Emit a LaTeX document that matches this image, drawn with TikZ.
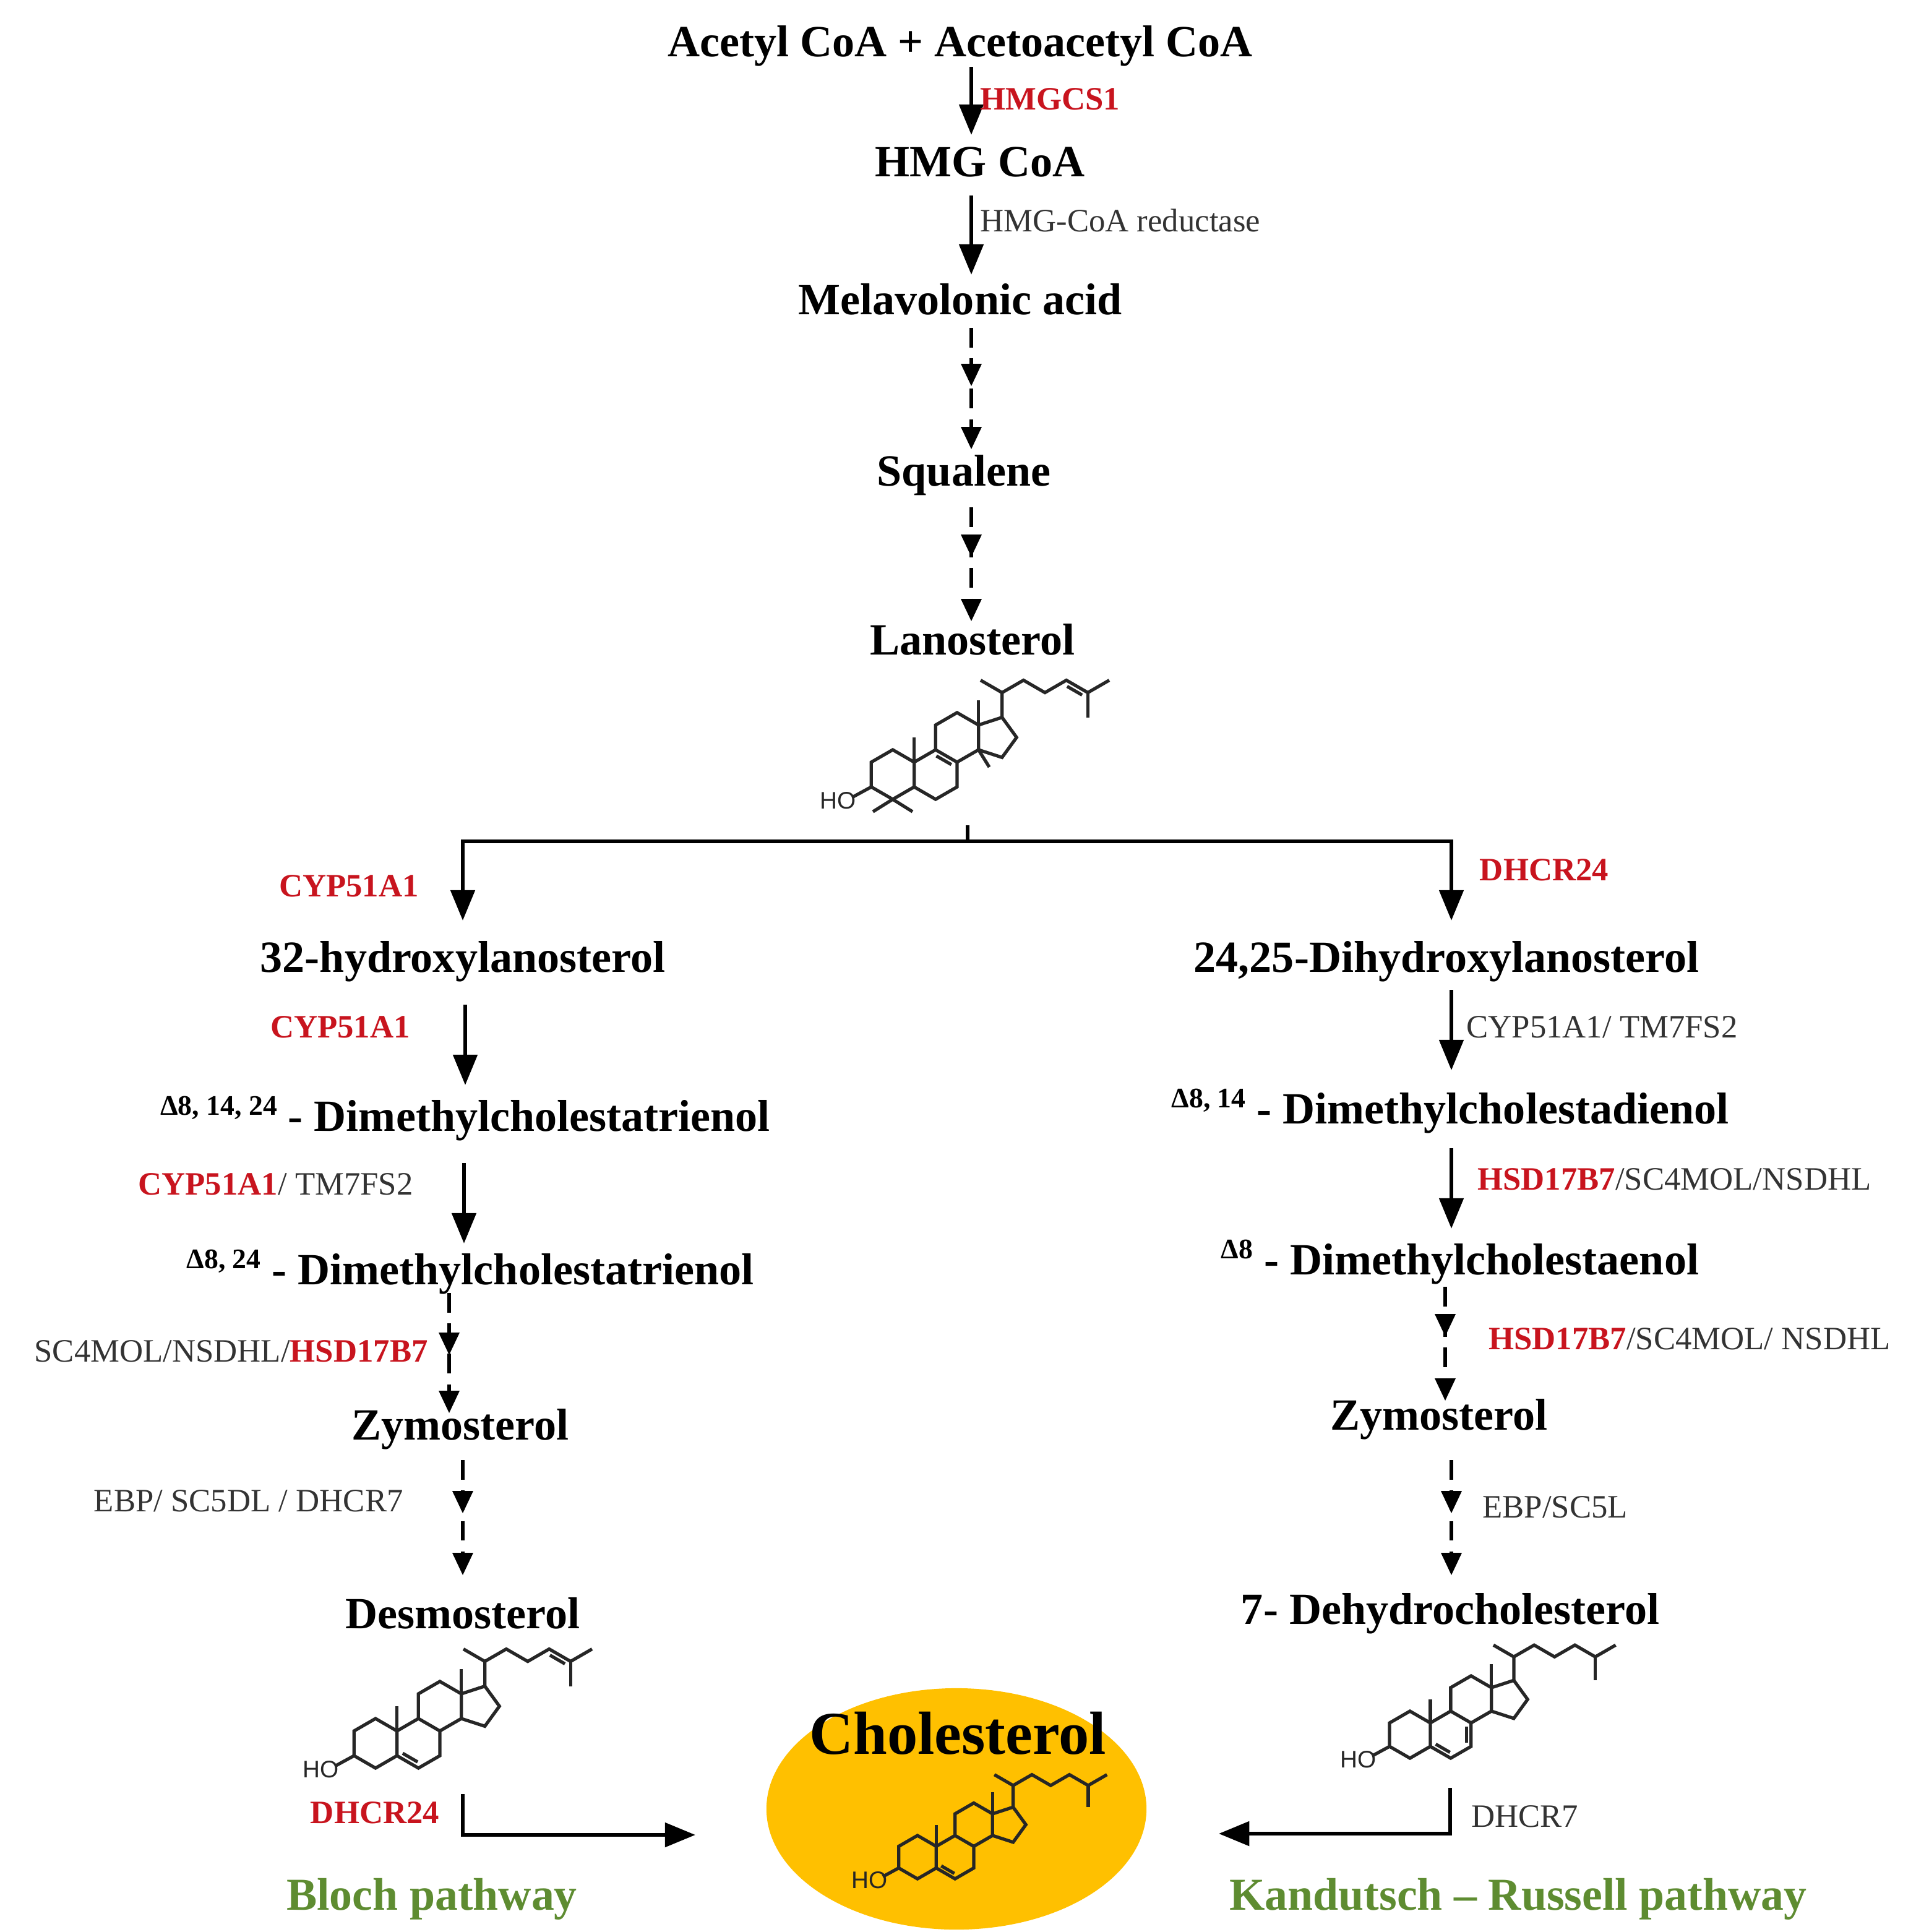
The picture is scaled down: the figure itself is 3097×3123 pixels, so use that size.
\documentclass[tikz,border=0pt]{standalone}
\usepackage{fontspec}
\setmainfont{Liberation Serif}
\setsansfont{Liberation Sans}
\usetikzlibrary{arrows.meta,shapes.geometric}
\definecolor{enzred}{RGB}{200,20,30}
\definecolor{pathgreen}{RGB}{94,140,49}
\definecolor{cholfill}{RGB}{255,192,0}
\newcommand\Ster[5]{% x, y, extras, HO size, scale
\begin{scope}[shift={(#1,#2)},x=#5,y=#5,line width=1.5pt,black!85]
\draw (-0.866,-0.5)--(-0.866,0.5)--(0,1)--(0.866,0.5)--(0.866,-0.5)--(0,-1)--cycle;
\draw (0.866,0.5)--(1.732,1)--(2.598,0.5)--(2.598,-0.5)--(1.732,-1)--(0.866,-0.5);
\draw (1.732,1)--(1.732,2)--(2.598,2.5)--(3.464,2)--(3.464,1)--(2.598,0.5);
\draw (3.464,2)--(4.415,2.309)--(5.003,1.5)--(4.415,0.691)--(3.464,1);
\draw (0.866,0.5)--(0.866,1.5) (3.464,2)--(3.464,3);
\draw (4.415,2.309)--(4.415,3.309)--(3.549,3.809);
\draw (4.415,3.309)--(5.281,3.809)--(6.147,3.309)--(7.013,3.809)--(7.879,3.309)--(8.745,3.809);
\draw (7.879,3.309)--(7.879,2.309);
\draw (-0.866,-0.5)--(-1.6,-0.9);
\node[font=\sffamily\fontsize{#4}{#4}\selectfont,black!85] at (-2.2,-1.05) {HO};
#3
\end{scope}}
\begin{document}
\begin{tikzpicture}[x=0.01cm,y=0.01cm,
  main/.style={font=\bfseries\fontsize{20.5}{24}\selectfont},
  enz/.style={font=\fontsize{15}{18}\selectfont,text=black!80},
  ered/.style={font=\bfseries\fontsize{15}{18}\selectfont,text=enzred},
  path/.style={font=\bfseries\fontsize{21}{25}\selectfont,text=pathgreen},
  arr/.style={line width=1.8pt,-{Triangle[length=14pt,width=11pt]}},
  darr/.style={line width=1.8pt,dash pattern=on 9pt off 5pt}]
\useasboundingbox (0,0) rectangle (3097,-3123);
\fill[white] (0,0) rectangle (3097,-3123);
\newcommand\dtip[2]{\fill (#1,#2) -- ++(-17,36) -- ++(34,0) -- cycle;}
% top chain
\node[main] (acc) at (1552,-74) {Acetyl CoA + Acetoacetyl CoA};
\node[main] (hmg) at (1584,-262) {HMG CoA};
\node[main] (mev) at (1552,-484) {Melavolonic acid};
\node[main] (sq) at (1558,-768) {Squalene};
\node[main] (lan) at (1572,-1034) {Lanosterol};
\coordinate (a1s) at (1570,-108); \coordinate (a1e) at (1570,-218);
\draw[arr] (a1s) -- (a1e);
\node[ered,anchor=west] (hmgcs) at (1572,-160) {HMGCS1};
\coordinate (a2s) at (1570,-316); \coordinate (a2e) at (1570,-444);
\draw[arr] (a2s) -- (a2e);
\node[enz,anchor=west] (red) at (1572,-356) {HMG-CoA reductase};
% dashed
\draw[darr] (1570,-530) -- (1570,-700); \dtip{1570}{-624} \dtip{1570}{-726}
\draw[darr] (1570,-820) -- (1570,-980); \dtip{1570}{-900} \dtip{1570}{-1004}
% lanosterol
\Ster{1443}{-1252}{%
 \draw (1.762,0.752)--(2.368,0.402);
 \draw (7.043,3.561)--(7.649,3.211);
 \draw (0,-1)--(-0.8,-1.5) (0,-1)--(0.8,-1.5);
 \draw (3.464,1)--(3.9,0.3);}{11}{0.4cm}
% branch
\coordinate (br) at (1564,-1334);
\draw[line width=1.8pt] (br) -- (1564,-1360);
\draw[arr] (1564,-1360) -| (748,-1488);
\draw[arr] (1564,-1360) -| (2346,-1488);
\node[ered] (c1) at (564,-1432) {CYP51A1};
\node[ered] (d24) at (2496,-1406) {DHCR24};
% left column
\node[main] (l1) at (748,-1554) {32-hydroxylanosterol};
\node[ered] (c2) at (550,-1660) {CYP51A1};
\draw[arr] (752,-1624) -- (752,-1754);
\node[main] (l2) at (752,-1808) {\raisebox{0.35em}{\fontsize{13}{15}\selectfont Δ8, 14, 24} - Dimethylcholestatrienol};
\draw[arr] (750,-1880) -- (750,-2010);
\node[enz,anchor=east] (c3) at (680,-1914) {\textcolor{enzred}{\bfseries CYP51A1}/ TM7FS2};
\node[main] (l3) at (760,-2056) {\raisebox{0.35em}{\fontsize{13}{15}\selectfont Δ8, 24} - Dimethylcholestatrienol};
\draw[darr] (726,-2090) -- (726,-2260); \dtip{726}{-2190} \dtip{726}{-2284}
\node[enz,anchor=east] (c4) at (704,-2184) {SC4MOL/NSDHL/\textcolor{enzred}{\bfseries HSD17B7}};
\node[main] (l4) at (744,-2310) {Zymosterol};
\draw[darr] (748,-2360) -- (748,-2520); \dtip{748}{-2446} \dtip{748}{-2546}
\node[enz,anchor=east] (c5) at (664,-2426) {EBP/ SC5DL / DHCR7};
\node[main] (l5) at (748,-2608) {Desmosterol};
\Ster{607}{-2818}{%
 \draw (1.096,-0.402)--(1.702,-0.752);
 \draw (7.043,3.561)--(7.649,3.211);}{11}{0.4cm}
% right column
\node[main] (r1) at (2338,-1554) {24,25-Dihydroxylanosterol};
\draw[arr] (2346,-1600) -- (2346,-1730);
\node[enz,anchor=west] (e1) at (2358,-1660) {CYP51A1/ TM7FS2};
\node[main] (r2) at (2344,-1796) {\raisebox{0.35em}{\fontsize{13}{15}\selectfont Δ8, 14} - Dimethylcholestadienol};
\draw[arr] (2346,-1856) -- (2346,-1986);
\node[enz,anchor=west] (e2) at (2376,-1906) {\textcolor{enzred}{\bfseries HSD17B7}/SC4MOL/NSDHL};
\node[main] (r3) at (2360,-2040) {\raisebox{0.35em}{\fontsize{13}{15}\selectfont Δ8} - Dimethylcholestaenol};
\draw[darr] (2336,-2080) -- (2336,-2240); \dtip{2336}{-2160} \dtip{2336}{-2264}
\node[enz,anchor=west] (e3) at (2394,-2164) {\textcolor{enzred}{\bfseries HSD17B7}/SC4MOL/ NSDHL};
\node[main] (r4) at (2326,-2294) {Zymosterol};
\draw[darr] (2346,-2360) -- (2346,-2520); \dtip{2346}{-2446} \dtip{2346}{-2546}
\node[enz,anchor=west] (e4) at (2384,-2436) {EBP/SC5L};
\node[main] (r5) at (2344,-2608) {7- Dehydrocholesterol};
\Ster{2279}{-2804}{%
 \draw (1.096,-0.402)--(1.702,-0.752);
 \draw (2.398,-0.35)--(2.398,0.35);}{11}{0.38cm}
% cholesterol
\node[ellipse,fill=cholfill,minimum width=6.14cm,minimum height=3.9cm,inner sep=0] (ch) at (1546,-2924) {};
\node[font=\bfseries\fontsize{28}{32}\selectfont] (cht) at (1548,-2802) {Cholesterol};
\Ster{1483}{-3002}{%
 \draw (1.096,-0.402)--(1.702,-0.752);}{11}{0.35cm}
% bottom connectors
\node[ered] (d24b) at (606,-2930) {DHCR24};
\draw[arr] (748,-2900) |- (1124,-2966);
\node[enz,anchor=west] (d7) at (2366,-2936) {DHCR7};
\draw[arr] (2344,-2890) |- (1970,-2964);
\node[path] (bloch) at (698,-3070) {Bloch pathway};
\node[path] (kr) at (2454,-3070) {Kandutsch – Russell pathway};
\end{tikzpicture}
\end{document}
